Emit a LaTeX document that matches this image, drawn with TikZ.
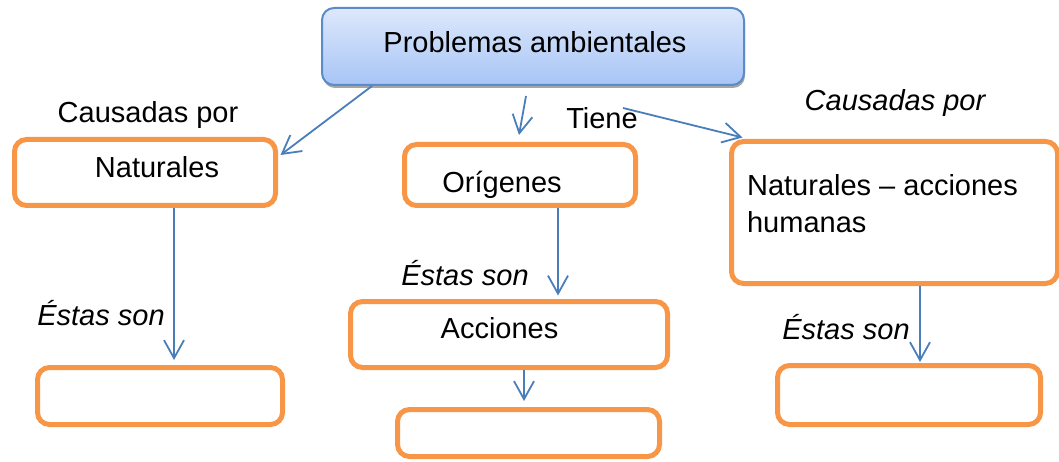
\documentclass[tikz,border=0pt]{standalone}
\usepackage{fontspec}
\setmainfont{Liberation Sans}
\usetikzlibrary{arrows.meta}
\usetikzlibrary{shadows}
\usetikzlibrary{positioning}
\definecolor{naranja}{HTML}{F79646}
\definecolor{azul}{HTML}{4A7EBB}
\definecolor{azulborde}{HTML}{5B8BC8}
\definecolor{azulclaro}{HTML}{DDE8FB}
\definecolor{azulmedio}{HTML}{A7C5F6}

\begin{document}
\begin{tikzpicture}[x=1pt,y=-1pt,font=\fontsize{29}{37}\selectfont,
	caja/.style={draw=naranja,line width=5pt,rounded corners=12pt,inner sep=0pt},
	flecha/.style={draw=azul,line width=1.8pt,-{Straight Barb[length=18pt,width=20pt]}},
	cursiva/.style={font=\fontsize{29}{37}\selectfont\itshape}]
	\useasboundingbox (0,0) rectangle (1059,462);
	
	\node[draw=azulborde,line width=2pt,rounded corners=12pt,top color=azulclaro,bottom color=azulmedio,
	drop shadow={shadow xshift=1pt,shadow yshift=-3pt,opacity=0.35,fill=black},
	minimum width=422pt,minimum height=77pt,inner sep=0pt][label={[xshift=2pt,yshift=4pt]center:Problemas ambientales}] at (533,46.5) (prob) {};
	
	\node[caja,minimum width=261pt,minimum height=66pt][label={[xshift=12pt,yshift=5pt]center:Naturales}] at (145,172.5) (nat) {};
	\node[caja,minimum width=231pt,minimum height=61pt][label={[xshift=-18pt,yshift=-10pt]center:Orígenes}] at (520,175) (orig) {};
	\node[caja,minimum width=326pt,minimum height=142pt][label={[xshift=-12pt,yshift=9pt,align=left]center:Naturales – acciones\\humanas}] at (894.5,212.5) (hum) {};
	\node[caja,minimum width=317pt,minimum height=66pt][label={[xshift=-9.5pt,yshift=6.5pt]center:Acciones}] at (509,334.5) (acc) {};
	
	\node[caja,minimum width=245pt,minimum height=57pt] at (160,396) (natfin) {};
	\node[caja,minimum width=262pt,minimum height=47pt] at (528.5,433) (accfin) {};
	\node[caja,minimum width=263pt,minimum height=59pt] at (909,395) (humfin) {};
	
	\node at (148,115) (causI) {Causadas por};
	\node[cursiva] at (895,103) (causD) {Causadas por};
	\node at (602,118) (tiene) {Tiene};
	\node[cursiva] at (101,313) (estas1) {Éstas son};
	\node[cursiva] at (465,273) (estas2) {Éstas son};
	\node[cursiva] at (846,327) (estas3) {Éstas son};
	\coordinate (tsal) at (623,108);
	
	\draw[flecha] ([xshift=-161pt]prob.south) -- ([xshift=2.5pt,yshift=17.5pt]nat.east);
	\draw[flecha] ([xshift=-7pt,yshift=-10pt]prob.south) -- ([xshift=-1pt,yshift=7pt]orig.north);
	\draw[flecha] (tsal) -- ([xshift=13.5pt,yshift=1.5pt]hum.north west);
	
	\draw[flecha] ([xshift=29pt]nat.south) -- ([xshift=14pt,yshift=5pt]natfin.north);
	\draw[flecha] ([xshift=38pt]orig.south) -- ([xshift=49pt,yshift=3.5pt]acc.north);
	\draw[flecha] ([xshift=15pt]acc.south) -- ([xshift=-4.5pt,yshift=6pt]accfin.north);
	\draw[flecha] ([xshift=25.5pt]hum.south) -- ([xshift=11pt,yshift=1pt]humfin.north);
\end{tikzpicture}
\end{document}
